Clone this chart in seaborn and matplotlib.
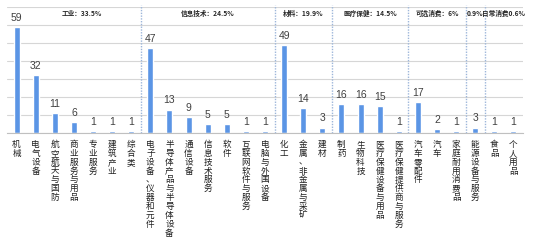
import numpy as np
import pandas as pd
import matplotlib
matplotlib.use("Agg")
import matplotlib.pyplot as plt
import seaborn as sns

categories = ["机械", "电气设备", "航空航天与国防", "商业服务与用品", "专业服务", "建筑产业", "综合类",
              "电子设备、仪器和元件", "半导体产品与半导体设备", "通信设备", "信息技术服务", "软件",
              "互联网软件与服务", "电脑与外围设备",
              "化工", "金属、非金属与采矿", "建材",
              "制药", "生物科技", "医疗保健设备与用品", "医疗保健提供商与服务",
              "汽车零配件", "汽车", "家庭耐用消费品",
              "能源设备与服务",
              "食品", "个人用品"]
values = [59, 32, 11, 6, 1, 1, 1,
          47, 13, 9, 5, 5, 1, 1,
          49, 14, 3,
          16, 16, 15, 1,
          17, 2, 1,
          3,
          1, 1]
sector_labels = ["工业：33.5%", "信息技术：24.5%", "材料：19.9%", "医疗保健：14.5%",
                 "可选消费：6%", "0.9%", "日常消费0.6%"]
sector_sizes = [7, 7, 3, 4, 3, 1, 2]

sns.set_theme(style="white")
plt.rcParams['font.family'] = ['Noto Sans CJK SC', 'DejaVu Sans']

df = pd.DataFrame({"cat": categories, "val": values})

fig = plt.figure(figsize=(5.54, 2.46), dpi=100)
ax = fig.add_axes([7/554, 113/246, 516/554, 126/246])

sns.barplot(data=df, x="cat", y="val", order=categories, color="#5b95e5",
            saturation=1, width=0.31, ax=ax)

ax.set_ylim(0, 70)
ax.set_xlim(-0.5, len(categories) - 0.5)
ax.set_yticks(np.arange(0, 71, 10))
ax.set_yticklabels([])
ax.tick_params(axis="y", length=0)
ax.yaxis.grid(True, color="#d6d6d6", linewidth=0.8)
ax.set_axisbelow(True)
for s in ["left", "right", "top"]:
    ax.spines[s].set_visible(False)
ax.spines["bottom"].set_color("#c0c0c0")
ax.spines["bottom"].set_linewidth(0.8)
ax.set_xlabel("")
ax.set_ylabel("")

ax.set_xticks(range(len(categories)))
ax.set_xticklabels(["\n".join(c) for c in categories], fontsize=6.2,
                   linespacing=0.98, va="top", color="#1f1f1f")
ax.tick_params(axis="x", length=0, pad=5)

for cont in ax.containers:
    ax.bar_label(cont, padding=3, fontsize=7.5, color="#404040",
                 family=["Liberation Sans", "DejaVu Sans"])

# sector separators and headers
bounds = np.cumsum(sector_sizes)
starts = np.concatenate([[0], bounds[:-1]])
for b in bounds[:-1]:
    ax.vlines(b - 0.5, 0, 71, colors="#9db6da", linestyles=(0, (1, 1)),
              linewidth=1.0, clip_on=False)
for lbl, s, n in zip(sector_labels, starts, sector_sizes):
    cx = s + (n - 1) / 2
    if s == 0:
        cx += 0.4
    ax.text(cx, 66.6, lbl, ha="center", va="center", fontsize=4.8,
            fontweight="bold", color="#262626")

fig.savefig("out.png", dpi=100)
